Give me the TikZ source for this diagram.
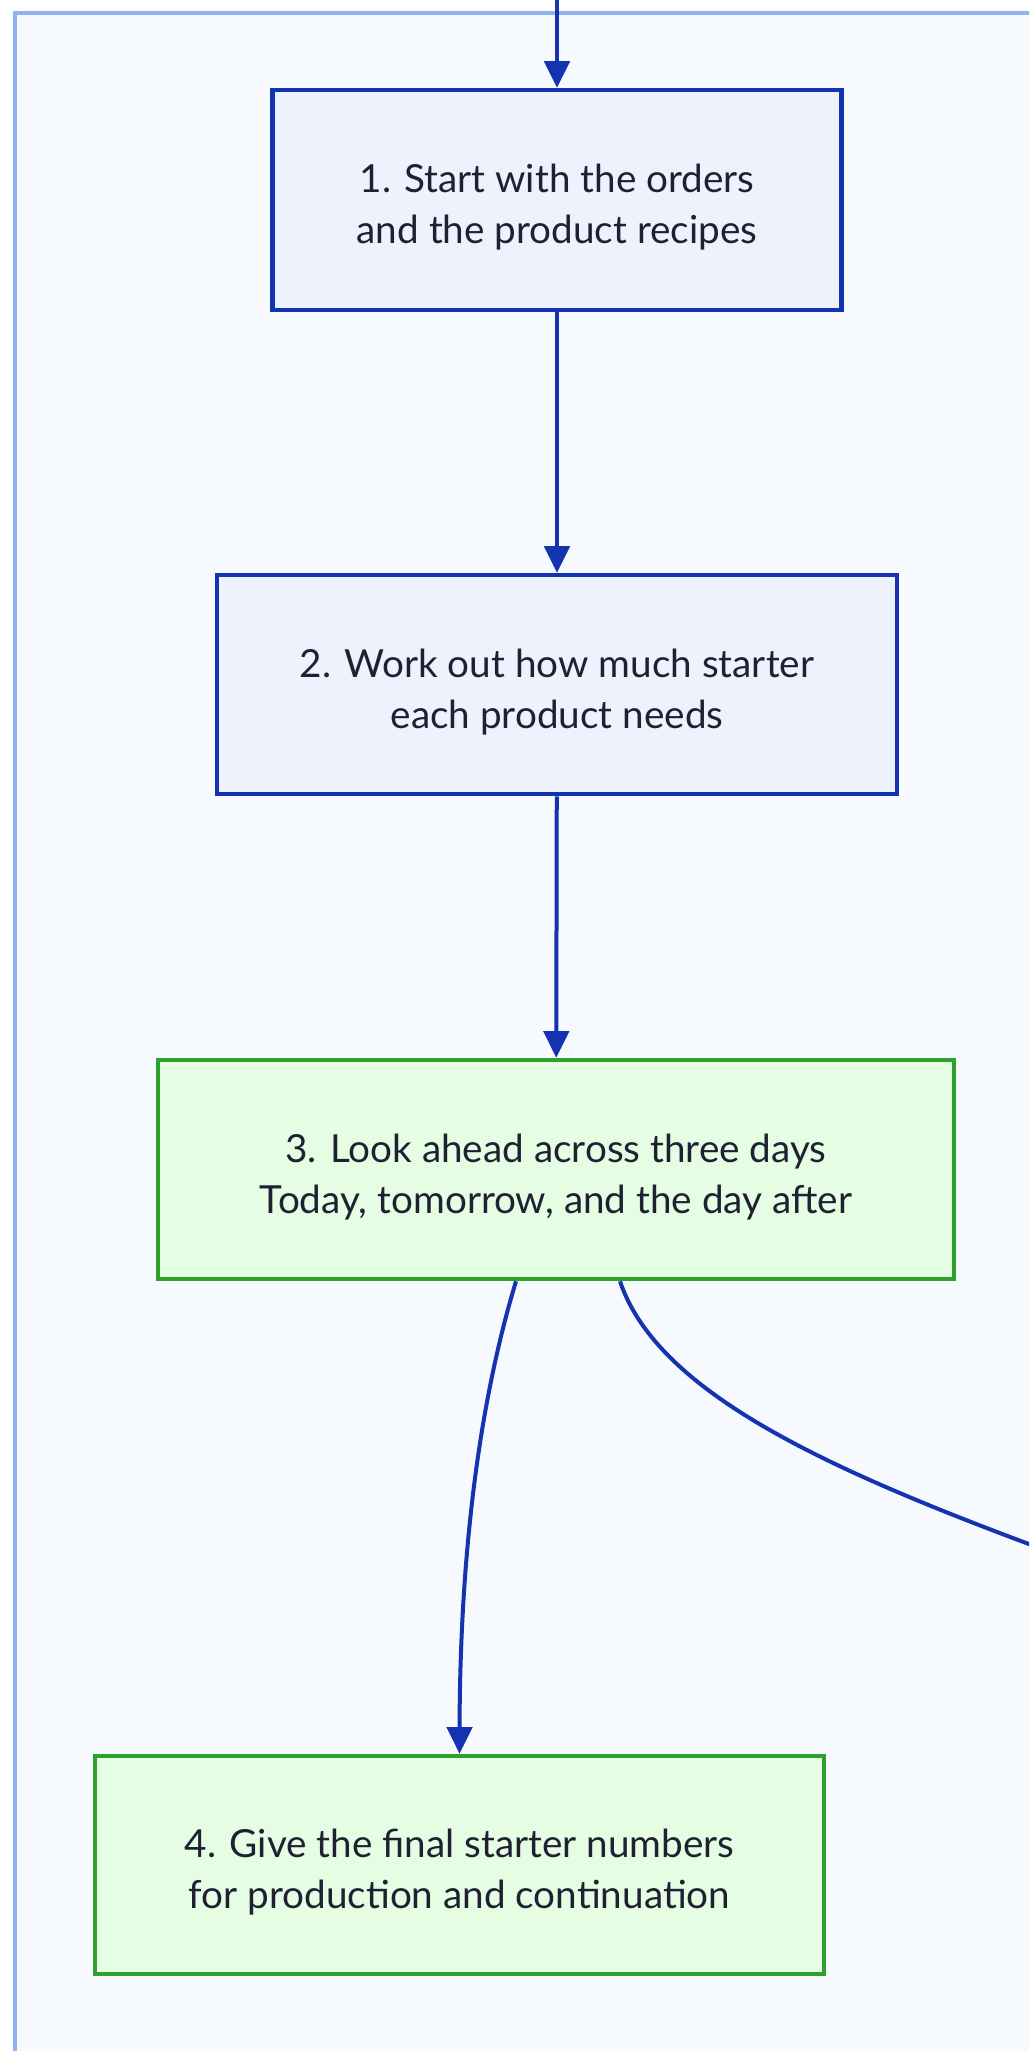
\documentclass[tikz,border=0pt]{standalone}
\usepackage{fontspec}
\setmainfont{Lato}
\usetikzlibrary{arrows.meta}

\definecolor{clusterfill}{RGB}{246,249,254}
\definecolor{clusterline}{RGB}{143,179,240}
\definecolor{bluefill}{RGB}{238,242,253}
\definecolor{blueline}{RGB}{20,51,176}
\definecolor{greenfill}{RGB}{229,253,227}
\definecolor{greenline}{RGB}{46,160,46}
\definecolor{textcol}{RGB}{31,33,51}

\tikzset{every picture/.style={line width=0.75pt}}
\tikzset{
	stepblue/.style={draw=blueline, fill=bluefill, line width=3.4pt, align=center, text=textcol, font=\fontsize{29}{38.25}\selectfont, text height=66pt, text depth=0.5pt},
	stepgreen/.style={stepblue, draw=greenline, fill=greenfill},
	flow/.style={draw=blueline, line width=3pt, -{Triangle[length=20pt,width=19pt]}}}

\begin{document}
\begin{tikzpicture}[x=0.75pt,y=0.75pt,yscale=-1,xscale=1]
	\useasboundingbox (0,0) rectangle (1029,2051);
	\clip (0,0) rectangle (1029,2051);
	\fill[white] (0,0) rectangle (1029,2051);

	%Shape: Rectangle [cluster]
	\draw[draw=clusterline, fill=clusterfill, line width=3pt] (15,13) rectangle (1100,2100);

	% Text Node
	\node[stepblue, minimum width=426.75pt, minimum height=165pt] (orders) at (557,200) {1. Start with the orders\\and the product recipes};
	% Text Node
	\node[stepblue, minimum width=510pt, minimum height=164.25pt] (starter) at (557,684.5) {2. Work out how much starter\\each product needs};
	% Text Node
	\node[stepgreen, minimum width=597pt, minimum height=164.25pt] (lookahead) at (556,1169.5) {3. Look ahead across three days\\Today, tomorrow, and the day after};
	% Text Node
	\node[stepgreen, minimum width=546.75pt, minimum height=163.5pt] (final) at (459.5,1865) {4. Give the final starter numbers\\for production and continuation};

	\coordinate (entry) at (557,-20);
	\coordinate (offpage) at (1100,1570);

	%Straight Lines
	\draw[flow] (entry) -- (orders);
	\draw[flow] (orders) -- (starter);
	\draw[flow] (starter) -- (lookahead);
	%Curve Lines
	\draw[flow] ([shift={(-40,0)}]lookahead.south) .. controls (480,1400) and (460,1550) .. (final.north);
	\draw[flow, -] ([shift={(64,0)}]lookahead.south) .. controls (660,1400) and (850,1480) .. (offpage);
\end{tikzpicture}
\end{document}
